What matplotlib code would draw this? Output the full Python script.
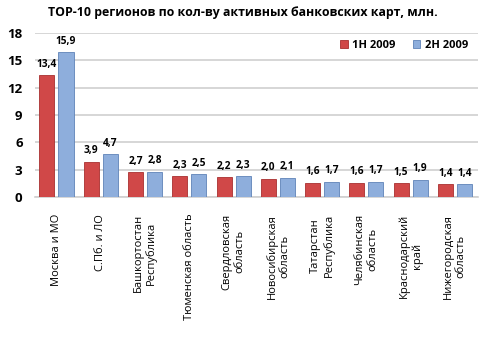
import numpy as np
import matplotlib.pyplot as plt

plt.rcParams['font.family'] = ['Open Sans', 'DejaVu Sans']

regions = ["Москва и МО", "С.Пб. и ЛО", "Башкортостан\nРеспублика", "Тюменская область",
           "Свердловская\nобласть", "Новосибирская\nобласть", "Татарстан\nРеспублика",
           "Челябинская\nобласть", "Краснодарский\nкрай", "Нижегородская\nобласть"]
h1_2009 = [13.4, 3.9, 2.7, 2.3, 2.2, 2.0, 1.6, 1.6, 1.5, 1.4]
h2_2009 = [15.9, 4.7, 2.8, 2.5, 2.3, 2.1, 1.7, 1.7, 1.9, 1.4]

fig = plt.figure(figsize=(5, 3.41), dpi=100)
ax = fig.add_axes([0.07, 0.422, 0.886, 0.481])

x = np.arange(len(regions))
w = 0.34
b1 = ax.bar(x - w / 2 - 0.045, h1_2009, w, color='#d04848', edgecolor='#a83030', linewidth=0.6, label='1H 2009', zorder=3)
b2 = ax.bar(x + w / 2 + 0.045, h2_2009, w, color='#8eaedc', edgecolor='#5f83b8', linewidth=0.6, label='2H 2009', zorder=3)

for bars, vals in [(b1, h1_2009), (b2, h2_2009)]:
    for r, v in zip(bars, vals):
        ax.text(r.get_x() + r.get_width() / 2, v + 0.6, f"{v:.1f}".replace('.', ','),
                ha='center', va='bottom', fontsize=7.3, fontweight='bold')

ax.set_ylim(0, 18)
ax.set_xlim(-0.485, len(regions) - 0.48)
ax.set_yticks(range(0, 19, 3))
ax.yaxis.grid(True, color='#d0d0d0', linewidth=1.2, zorder=0)
for s in ['top', 'right', 'left']:
    ax.spines[s].set_visible(False)
ax.spines['bottom'].set_color('#d0d0d0')
ax.spines['bottom'].set_linewidth(1.2)
ax.tick_params(axis='both', length=0)
ax.tick_params(axis='y', labelsize=9.5, pad=9)
for t in ax.get_yticklabels():
    t.set_fontweight('bold')
ax.set_xticks(x)
ax.set_xticklabels(regions, rotation=90, fontsize=8, multialignment='center', va='top')
ax.tick_params(axis='x', pad=12)

fig.text(0.485, 0.962, "ТОР-10 регионов по кол-ву активных банковских карт, млн.",
         ha='center', va='center', fontsize=8.9, fontweight='bold')
ax.legend(loc='center right', bbox_to_anchor=(1.0, 0.925), frameon=False, ncol=2,
          prop={'weight': 'bold', 'size': 8}, handlelength=0.7, handleheight=0.7,
          columnspacing=1.5, handletextpad=0.4)

plt.savefig('out.png', dpi=100)
